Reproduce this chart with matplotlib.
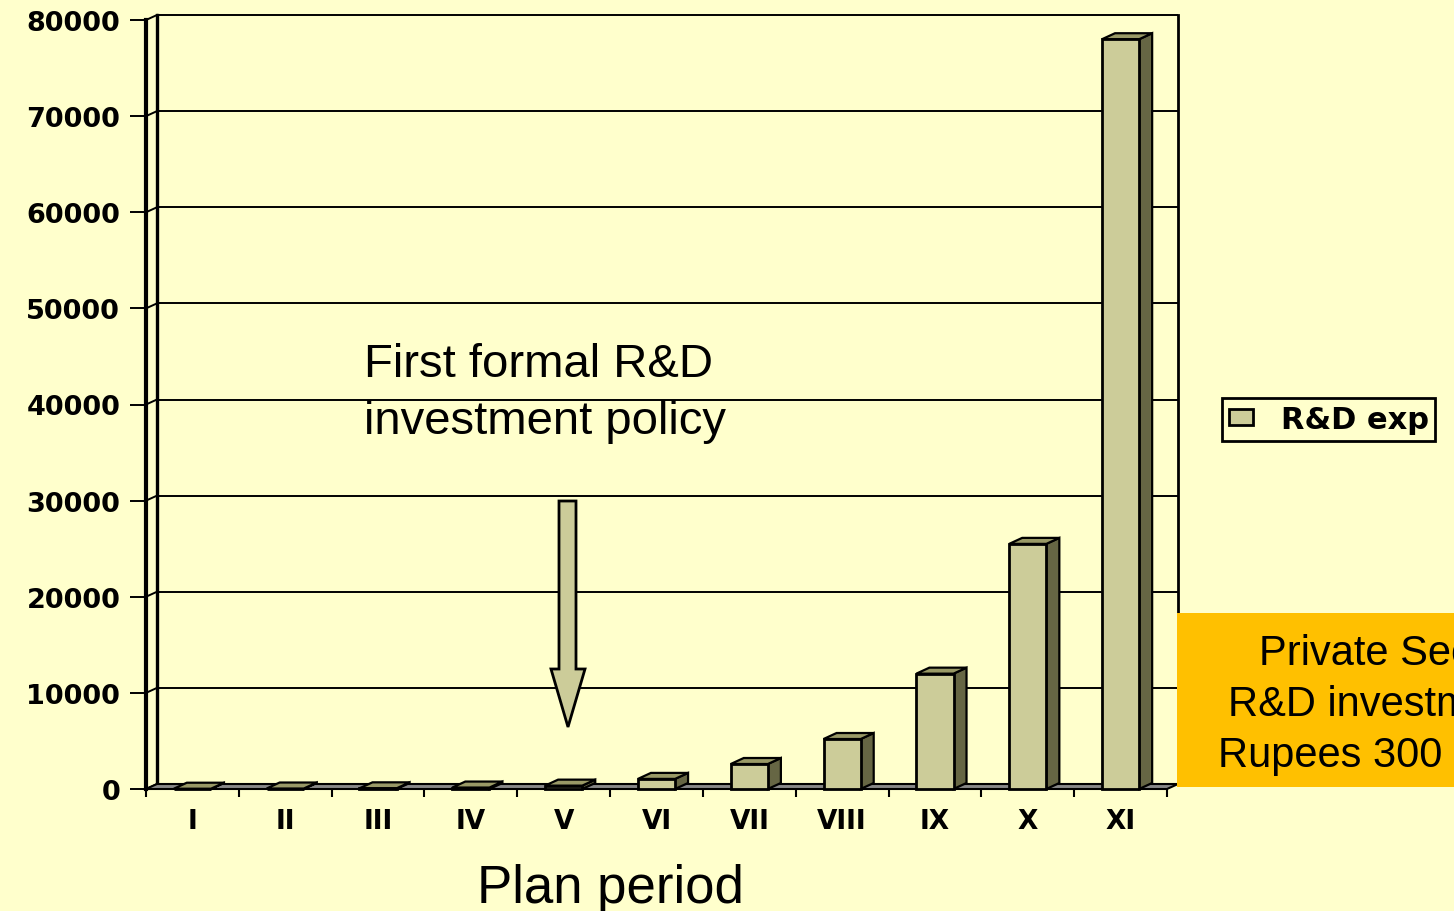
import matplotlib
matplotlib.use('Agg')
import matplotlib.pyplot as plt
from matplotlib.patches import Polygon, Rectangle

# ---------------- data ----------------
plans = ['I', 'II', 'III', 'IV', 'V', 'VI', 'VII', 'VIII', 'IX', 'X', 'XI']
rd_exp = [30, 50, 70, 150, 350, 1050, 2600, 5200, 12000, 25500, 78000]
yticks = list(range(0, 80001, 10000))
legend_label = 'R&D exp'
xlabel = 'Plan period'
note_lines = ['First formal R&D', 'investment policy']
box_lines = ['Private Sector', 'R&D investments', 'Rupees 300 crores']

# ---------------- styling ----------------
BG = '#FFFFCC'
FRONT = '#CCCC99'
SIDE = '#666644'
TOP = '#999966'
FLOOR = '#888888'
ORANGE = '#FFC000'
SANS = ['Liberation Sans', 'DejaVu Sans']

W, H = 1454, 912
fig = plt.figure(figsize=(W / 100, H / 100), dpi=100, facecolor=BG)


def fx(px):
    return px / W


def fy(py):
    return 1 - py / H


ax_left, ax_right, ax_bottom, ax_top = 146, 1167, 790, 21
ax = fig.add_axes([fx(ax_left), fy(ax_bottom),
                   (ax_right - ax_left) / W, (ax_bottom - ax_top) / H])
n = len(plans)
ymax = yticks[-1]
ax.set_xlim(0, n)
ax.set_ylim(0, ymax)
ax.patch.set_visible(False)

px_x = (ax_right - ax_left) / n
px_y = (ax_bottom - ax_top) / ymax
wdx, wdy = 11 / px_x, 5 / px_y      # wall depth
bdx, bdy = 13 / px_x, 6 / px_y      # bar depth

# back wall gridlines + diagonal connectors
for v in yticks:
    ax.plot([wdx, n + wdx], [v + wdy, v + wdy], color='black', lw=1.4,
            clip_on=False, zorder=1, solid_capstyle='butt')
    ax.plot([0, wdx], [v, v + wdy], color='black', lw=1.4, clip_on=False, zorder=1)
ax.plot([wdx, wdx], [wdy, ymax + wdy], color='black', lw=2.4, clip_on=False, zorder=1)
ax.plot([n + wdx, n + wdx], [wdy, ymax + wdy], color='black', lw=2.0, clip_on=False, zorder=1)

# floor
ax.add_patch(Polygon([(0, 0), (n, 0), (n + wdx, wdy), (wdx, wdy)], closed=True,
                     fc=FLOOR, ec='black', lw=1.5, clip_on=False, zorder=2))

# bars (front faces)
centers = [i + 0.5 for i in range(n)]
bw = 0.4
bars = ax.bar(centers, rd_exp, width=bw, color=FRONT, edgecolor='black',
              linewidth=2, zorder=5, label=legend_label, clip_on=False)
for c, h in zip(centers, rd_exp):
    x0, x1 = c - bw / 2, c + bw / 2
    ax.add_patch(Polygon([(x1, 0), (x1 + bdx, bdy), (x1 + bdx, h + bdy), (x1, h)],
                         closed=True, fc=SIDE, ec='black', lw=1.6, clip_on=False, zorder=4))
    ax.add_patch(Polygon([(x0, h), (x1, h), (x1 + bdx, h + bdy), (x0 + bdx, h + bdy)],
                         closed=True, fc=TOP, ec='black', lw=1.6, clip_on=False, zorder=4))

# axes
for s in ['top', 'right', 'bottom']:
    ax.spines[s].set_visible(False)
ax.spines['left'].set_linewidth(3)
ax.spines['left'].set_zorder(6)

ax.set_yticks(yticks)
ax.set_yticklabels([str(v) for v in yticks], fontweight='heavy', fontsize=19.5,
                   family=['DejaVu Sans'])
ax.tick_params(axis='y', length=11.5, width=1.4, pad=7, direction='out')

ax.set_xticks(centers)
ax.set_xticklabels(plans, fontweight='heavy', fontsize=19, family=['DejaVu Sans'])
ax.set_xticks(list(range(n + 1)), minor=True)
ax.tick_params(axis='x', which='major', length=0, pad=14)
ax.tick_params(axis='x', which='minor', length=6, width=1.5, direction='out')

# x label
fig.text(fx(610), fy(903), xlabel, ha='center', va='baseline', fontsize=38, family=SANS)

# annotation text
fig.text(fx(364), fy(377), note_lines[0], ha='left', va='baseline', fontsize=34, family=SANS)
fig.text(fx(364), fy(434), note_lines[1], ha='left', va='baseline', fontsize=34, family=SANS)

# arrow
arrow_px = [(559, 502), (576, 502), (576, 670), (585, 670), (568, 728),
            (551, 670), (559, 670)]
fig.patches.append(Polygon([(fx(x), fy(y)) for x, y in arrow_px], closed=True,
                           transform=fig.transFigure, fc=FRONT, ec='black', lw=2, zorder=3))

# legend
leg = fig.legend(handles=[bars], labels=[legend_label], loc='center left',
                 bbox_to_anchor=(fx(1222), fy(420.5)), bbox_transform=fig.transFigure,
                 frameon=True, fancybox=False, edgecolor='black', facecolor=BG,
                 framealpha=1, prop=dict(weight='bold', size=22, family='DejaVu Sans'),
                 handlelength=0.8, handleheight=0.45, borderpad=0.22,
                 handletextpad=0.9, borderaxespad=0)
leg.get_frame().set_linewidth(2)

# orange box
fig.patches.append(Rectangle((fx(1177), fy(788)), fx(320), (788 - 614) / H,
                             transform=fig.transFigure, fc=ORANGE, ec='none', zorder=2))
for (xp, yp), t in zip([(1259, 665), (1228, 716), (1218, 767)], box_lines):
    fig.text(fx(xp), fy(yp), t, ha='left', va='baseline', fontsize=30, family=SANS, zorder=4)

fig.savefig('out.png', dpi=100, facecolor=BG)
